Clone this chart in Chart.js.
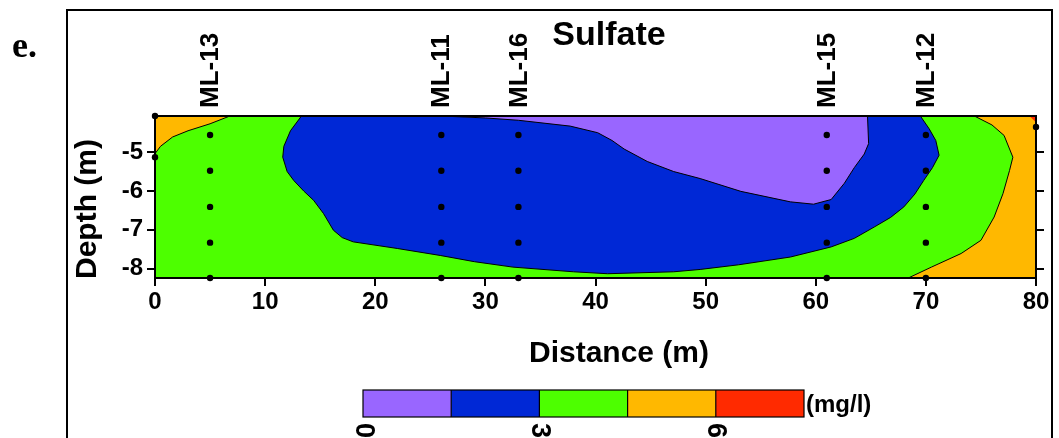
<!DOCTYPE html>
<html>
<head>
<meta charset="utf-8">
<script src="https://cdn.jsdelivr.net/npm/chart.js@4.4.1/dist/chart.umd.min.js"></script>
<style>
  html, body { margin: 0; padding: 0; background: #fff; }
  #wrap { width: 1059px; height: 438px; position: relative; }
</style>
</head>
<body>
<div id="wrap"><canvas id="c" width="1059" height="438"></canvas></div>
<script>
// ---------- data ----------
const xRange = [0, 80];
const depthRange = [-8.24, -4.07];
const depthTicks = [-8, -7, -6, -5];

const wellNames = ['ML-13', 'ML-11', 'ML-16', 'ML-15', 'ML-12'];
const wellX = [5, 26, 33, 61, 70];
const sampleDepths = [-4.56, -5.48, -6.41, -7.33, -8.24];
const extraSamples = [[0, -4.07], [0, -5.13], [80, -4.35]];

const levelLabels = ['0', '3', '6'];
const levelColors = ['#9966ff', '#0028d6', '#4dff00', '#ffb800', '#ff2a00'];

// contour regions (distance m, depth m)
const greenArea = [[0, -4.07], [80, -4.07], [80, -8.24], [0, -8.24]];
const orangeLeft = [[0, -4.07], [6.8, -4.07], [5, -4.27], [3, -4.45], [1.6, -4.61], [0.5, -4.85], [0, -5.04]];
const orangeRight = [[74.4, -4.07], [76, -4.3], [77.1, -4.57], [77.9, -5.13], [77.6, -5.47], [77, -6.07],
  [76.2, -6.67], [75, -7.27], [73.2, -7.61], [70.5, -7.96], [68.4, -8.24], [80, -8.24], [80, -4.07]];
const blueArea = [[13.3, -4.07], [12.3, -4.45], [11.7, -4.85], [11.6, -5.13], [12.0, -5.5], [12.6, -5.73],
  [13.5, -6.0], [14.4, -6.24], [15.3, -6.58], [16.2, -7.01], [17.0, -7.2], [18, -7.31], [22, -7.48],
  [25.9, -7.66], [29, -7.82], [32.5, -7.96], [38, -8.08], [41.1, -8.13], [47.1, -8.08], [49.5, -8.02],
  [53, -7.9], [57.7, -7.7], [61.4, -7.44], [63.5, -7.22], [65.3, -6.93], [66.8, -6.68], [68, -6.41],
  [69.0, -6.08], [69.8, -5.73], [70.6, -5.4], [71.2, -5.08], [70.9, -4.7], [70.3, -4.4], [69.5, -4.07]];
const purpleArea = [[26, -4.07], [30, -4.12], [33, -4.18], [37.7, -4.33], [40.2, -4.50], [41.5, -4.70],
  [42.6, -4.92], [44.7, -5.24], [47.1, -5.50], [49.5, -5.68], [53.2, -6.01], [57.7, -6.28], [59.8, -6.34],
  [61.4, -6.22], [62.6, -5.80], [63.5, -5.40], [64.4, -5.05], [64.8, -4.78], [64.7, -4.07]];
const redArea = [[79.4, -4.07], [80, -4.07], [80, -4.23]];

// ---------- build ----------
const toPts = arr => arr.map(p => ({ x: p[0], y: p[1] }));
function region(data, color, order) {
  return {
    data: toPts(data), showLine: true, fill: 'shape', backgroundColor: color,
    borderColor: '#000', borderWidth: 1, pointRadius: 0, tension: 0, order: order, clip: 0
  };
}
const samplePts = [];
wellX.forEach(x => sampleDepths.forEach(d => samplePts.push({ x: x, y: d })));
extraSamples.forEach(p => samplePts.push({ x: p[0], y: p[1] }));

const FONT = '"Liberation Sans", Arial, sans-serif';

const decor = {
  id: 'decor',
  afterDraw(chart) {
    const ctx = chart.ctx, a = chart.chartArea, xs = chart.scales.x;
    ctx.save();
    // plot frame
    ctx.strokeStyle = '#000'; ctx.lineWidth = 2;
    ctx.strokeRect(a.left, a.top, a.right - a.left, a.bottom - a.top);
    // outer panel frame (open at bottom)
    ctx.beginPath();
    ctx.moveTo(67, 440); ctx.lineTo(67, 10); ctx.lineTo(1052, 10); ctx.lineTo(1052, 440);
    ctx.stroke();
    // panel letter
    ctx.fillStyle = '#000';
    ctx.font = 'bold 36px "Liberation Serif", "Times New Roman", serif';
    ctx.textAlign = 'left'; ctx.textBaseline = 'alphabetic';
    ctx.fillText('e.', 12, 57);
    // title
    ctx.font = 'bold 34px ' + FONT;
    ctx.textAlign = 'center';
    ctx.fillText('Sulfate', 609, 45);
    // well labels
    ctx.font = 'bold 26px ' + FONT;
    wellNames.forEach((n, i) => {
      const px = xs.getPixelForValue(wellX[i]);
      ctx.save();
      ctx.translate(px + 1, 108);
      ctx.rotate(-Math.PI / 2);
      ctx.textAlign = 'left'; ctx.textBaseline = 'middle';
      ctx.fillText(n, 0, 0);
      ctx.restore();
    });
    // axis titles
    ctx.font = 'bold 30px ' + FONT;
    ctx.textAlign = 'center'; ctx.textBaseline = 'middle';
    ctx.fillText('Distance (m)', 619, 354);
    ctx.save();
    ctx.translate(88, 209);
    ctx.rotate(-Math.PI / 2);
    ctx.fillText('Depth (m)', 0, 0);
    ctx.restore();
    // colour bar
    const cbL = 363, cbR = 804, cbT = 390, cbB = 417;
    const segW = (cbR - cbL) / levelColors.length;
    levelColors.forEach((c, i) => {
      ctx.fillStyle = c;
      ctx.fillRect(cbL + i * segW, cbT, segW, cbB - cbT);
    });
    ctx.strokeStyle = '#000'; ctx.lineWidth = 1.2;
    ctx.strokeRect(cbL, cbT, cbR - cbL, cbB - cbT);
    for (let i = 1; i < levelColors.length; i++) {
      ctx.beginPath();
      ctx.moveTo(cbL + i * segW, cbT); ctx.lineTo(cbL + i * segW, cbB);
      ctx.stroke();
    }
    ctx.fillStyle = '#000';
    ctx.font = 'bold 24px ' + FONT;
    ctx.textAlign = 'left'; ctx.textBaseline = 'middle';
    ctx.fillText('(mg/l)', 806, 405);
    ctx.font = 'bold 27px ' + FONT;
    levelLabels.forEach((t, i) => {
      const px = cbL + i * 2 * segW;
      ctx.save();
      ctx.translate(px, 423);
      ctx.rotate(Math.PI / 2);
      ctx.textAlign = 'left'; ctx.textBaseline = 'middle';
      ctx.fillText(t, 0, 0);
      ctx.restore();
    });
    ctx.restore();
  }
};

const tickGrid = { drawOnChartArea: false, drawTicks: true, tickLength: 8, color: '#000', lineWidth: 2 };

new Chart(document.getElementById('c'), {
  type: 'scatter',
  data: {
    datasets: [
      { data: samplePts, pointRadius: 3.2, pointBackgroundColor: '#000', pointBorderWidth: 0,
        showLine: false, order: 0, clip: false },
      region(redArea, levelColors[4], 2),
      region(purpleArea, levelColors[0], 3),
      region(blueArea, levelColors[1], 4),
      region(orangeLeft, levelColors[3], 5),
      region(orangeRight, levelColors[3], 5),
      region(greenArea, levelColors[2], 6)
    ]
  },
  options: {
    responsive: false, animation: false, devicePixelRatio: 1,
    layout: { padding: { left: 0, right: 0, top: 116, bottom: 0 } },
    plugins: { legend: { display: false }, tooltip: { enabled: false }, title: { display: false } },
    scales: {
      x: {
        type: 'linear', position: 'bottom', min: xRange[0], max: xRange[1],
        ticks: { stepSize: 10, color: '#000', padding: 2, maxRotation: 0,
          font: { family: FONT, size: 24, weight: 'bold' } },
        grid: tickGrid, border: { display: true, color: '#000', width: 2 },
        afterFit(s) { s.height = 160; }
      },
      y: {
        type: 'linear', position: 'left', min: depthRange[0], max: depthRange[1],
        afterBuildTicks(s) { s.ticks = depthTicks.map(v => ({ value: v })); },
        ticks: { color: '#000', padding: 4, font: { family: FONT, size: 24, weight: 'bold' } },
        grid: tickGrid, border: { display: true, color: '#000', width: 2 },
        afterFit(s) { s.width = 155; }
      },
      y2: {
        type: 'linear', position: 'right', min: depthRange[0], max: depthRange[1],
        afterBuildTicks(s) { s.ticks = depthTicks.map(v => ({ value: v })); },
        ticks: { display: false },
        grid: tickGrid, border: { display: true, color: '#000', width: 2 },
        afterFit(s) { s.width = 23; }
      }
    }
  },
  plugins: [decor]
});
</script>
</body>
</html>
